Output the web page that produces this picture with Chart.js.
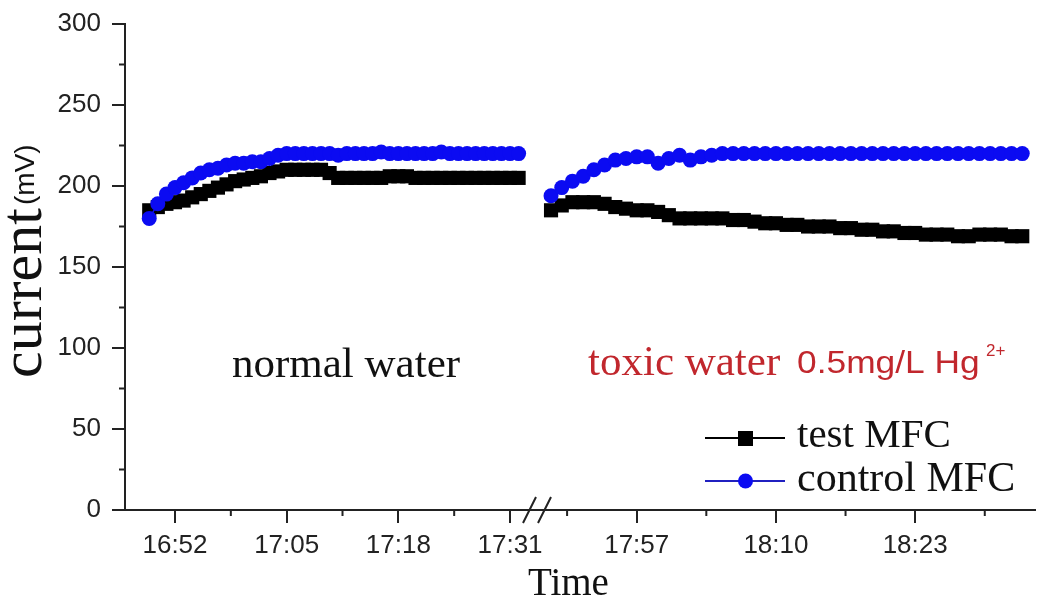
<!DOCTYPE html>
<html>
<head>
<meta charset="utf-8">
<script src="https://cdn.jsdelivr.net/npm/chart.js@4/dist/chart.umd.min.js"></script>
<style>
  html, body { margin: 0; padding: 0; background: #fff; }
  #wrap { width: 1038px; height: 611px; position: relative; }
</style>
</head>
<body>
<div id="wrap"><canvas id="myChart"></canvas></div>
<script>
// one reading per minute; first reading of each part
const leftStart = '16:49';
const rightStart = '17:49';

// test MFC, normal water / toxic water
const testLeft = [185, 187, 189, 190, 191, 193, 195, 197, 199, 201, 203, 204, 205, 206, 208, 209, 210, 210, 210, 210, 210, 208, 205,
  205, 205, 205, 205, 205, 206, 206, 206, 205, 205, 205, 205, 205, 205, 205, 205, 205, 205, 205, 205, 205];
const testRight = [185, 188, 190, 190, 190, 189, 187, 186, 185, 185, 184, 182, 180, 180, 180, 180, 180, 179, 179, 178,
  177, 177, 176, 176, 175, 175, 175, 174, 174, 173, 173, 172, 172, 171, 171, 170, 170, 170, 169, 169, 170, 170, 170, 169, 169];

// control MFC
const ctrlLeft = [180, 189, 195, 199, 202, 205, 208, 210, 211, 213, 214, 214, 215, 215, 217, 219, 220, 220, 220, 220, 220, 220, 219,
  220, 220, 220, 220, 221, 220, 220, 220, 220, 220, 220, 221, 220, 220, 220, 220, 220, 220, 220, 220, 220];
const ctrlRight = [194, 199, 203, 206, 210, 213, 216, 217, 218, 218, 214, 217, 219, 216, 218, 219, 220, 220, 220, 220,
  220, 220, 220, 220, 220, 220, 220, 220, 220, 220, 220, 220, 220, 220, 220, 220, 220, 220, 220, 220, 220, 220, 220, 220, 220];

const leftTickLabels = ['16:52', '17:05', '17:18', '17:31'];
const rightTickLabels = ['17:57', '18:10', '18:23'];

function toMin(s) {
  const p = s.split(':');
  return (parseInt(p[0]) - 16) * 60 + parseInt(p[1]);
}
function points(start, values) {
  const t0 = toMin(start);
  return values.map((v, i) => ({ x: t0 + i, y: v }));
}

const leftTicks = leftTickLabels.map(toMin);
const rightTicks = rightTickLabels.map(toMin);

const SANS = '"Liberation Sans", Arial, sans-serif';
const SERIF = '"Liberation Serif", "Times New Roman", serif';
const AXIS = '#222';
const BLUE = '#0b0bf2';
const RED = '#c1272d';

function xScale(ticks, labels, min, max, weight) {
  return {
    type: 'linear',
    position: 'bottom',
    stack: 'x',
    stackWeight: weight,
    min: min,
    max: max,
    afterBuildTicks: function (scale) {
      scale.ticks = ticks.map(v => ({ value: v }));
    },
    afterFit: function (scale) {
      scale.height = 101;
      scale.paddingLeft = 0;
      scale.paddingRight = 0;
    },
    grid: { drawOnChartArea: false, tickLength: 13, color: AXIS, lineWidth: 2 },
    border: { color: AXIS, width: 2 },
    ticks: {
      font: { family: SANS, size: 26 },
      color: AXIS,
      padding: 7,
      maxRotation: 0,
      autoSkip: false,
      callback: function (value, index) { return labels[index]; }
    }
  };
}

const decorPlugin = {
  id: 'decor',
  afterDraw: function (chart) {
    const ctx = chart.ctx;
    const y = chart.scales.y;
    const xl = chart.scales.xl;
    const xr = chart.scales.xr;
    ctx.save();
    ctx.strokeStyle = AXIS;
    ctx.lineWidth = 2;

    // minor ticks
    ctx.beginPath();
    for (let v = 25; v < 300; v += 50) {
      const py = y.getPixelForValue(v);
      ctx.moveTo(y.right, py);
      ctx.lineTo(y.right - 6, py);
    }
    [[xl, leftTicks], [xr, rightTicks]].forEach(function (pair) {
      const sc = pair[0];
      const minors = [];
      pair[1].forEach(function (t) { minors.push(t - 6.5, t + 6.5); });
      minors.forEach(function (m) {
        if (m > sc.min && m < sc.max && pair[1].indexOf(m) < 0) {
          const px = sc.getPixelForValue(m);
          ctx.moveTo(px, sc.top);
          ctx.lineTo(px, sc.top + 6);
        }
      });
    });
    ctx.stroke();

    // axis break
    const bx = xl.right;
    const by = xl.top;
    ctx.beginPath();
    ctx.moveTo(bx - 14, by + 13); ctx.lineTo(bx - 1, by - 13);
    ctx.moveTo(bx + 1, by + 13); ctx.lineTo(bx + 14, by - 13);
    ctx.stroke();

    ctx.textAlign = 'left';
    ctx.textBaseline = 'alphabetic';

    // y title
    ctx.fillStyle = '#111';
    ctx.save();
    ctx.translate(41, 378);
    ctx.rotate(-Math.PI / 2);
    ctx.font = '60px ' + SERIF;
    ctx.fillText('current', 0, 0);
    ctx.restore();
    ctx.save();
    ctx.translate(34, 205);
    ctx.rotate(-Math.PI / 2);
    ctx.font = '28px ' + SANS;
    ctx.fillText('(mV)', 0, 0);
    ctx.restore();

    // x title
    ctx.font = '39px ' + SERIF;
    ctx.fillText('Time', 528, 595);

    // region notes
    ctx.font = '43px ' + SERIF;
    ctx.fillText('normal water', 232, 377);
    ctx.fillStyle = RED;
    ctx.fillText('toxic water', 588, 375);
    ctx.save();
    ctx.translate(797, 373);
    ctx.scale(1.14, 1);
    ctx.font = '31px ' + SANS;
    ctx.fillText('0.5mg/L Hg', 0, 0);
    ctx.restore();
    ctx.font = '17px ' + SANS;
    ctx.fillText('2+', 986, 356);

    // legend
    ctx.strokeStyle = '#000';
    ctx.beginPath();
    ctx.moveTo(705, 438); ctx.lineTo(785, 438);
    ctx.stroke();
    ctx.fillStyle = '#000';
    ctx.fillRect(738, 431, 15, 15);
    ctx.strokeStyle = '#2020c0';
    ctx.beginPath();
    ctx.moveTo(705, 481); ctx.lineTo(785, 481);
    ctx.stroke();
    ctx.fillStyle = BLUE;
    ctx.beginPath();
    ctx.arc(745.5, 481, 7.5, 0, Math.PI * 2);
    ctx.fill();
    ctx.fillStyle = '#111';
    ctx.font = '41px ' + SERIF;
    ctx.fillText('test MFC', 797, 447);
    ctx.font = '42px ' + SERIF;
    ctx.fillText('control MFC', 797, 491);
    ctx.restore();
  }
};

const ctrlStyle = {
  borderColor: BLUE, backgroundColor: BLUE, borderWidth: 1.5,
  pointStyle: 'circle', pointRadius: 7.5, pointBorderWidth: 0, clip: false
};
const testStyle = {
  borderColor: '#000', backgroundColor: '#000', borderWidth: 1.5,
  pointStyle: 'rect', pointRadius: 10, pointBorderWidth: 0, clip: false
};

const data = {
  datasets: [
    Object.assign({ label: 'control MFC', data: points(leftStart, ctrlLeft), xAxisID: 'xl' }, ctrlStyle),
    Object.assign({ label: 'control MFC', data: points(rightStart, ctrlRight), xAxisID: 'xr' }, ctrlStyle),
    Object.assign({ label: 'test MFC', data: points(leftStart, testLeft), xAxisID: 'xl' }, testStyle),
    Object.assign({ label: 'test MFC', data: points(rightStart, testRight), xAxisID: 'xr' }, testStyle)
  ]
};

const options = {
  responsive: true,
  maintainAspectRatio: false,
  animation: false,
  layout: { autoPadding: false, padding: { top: 24, right: 3, left: 0, bottom: 0 } },
  plugins: { legend: { display: false }, tooltip: { enabled: false } },
  scales: {
    xl: xScale(leftTicks, leftTickLabels, 46.18, 94.14, 412),
    xr: xScale(rightTicks, rightTickLabels, 107.69, 154.19, 498),
    y: {
      type: 'linear',
      position: 'left',
      min: 0,
      max: 300,
      afterFit: function (scale) {
        scale.width = 125;
        scale.paddingTop = 0;
        scale.paddingBottom = 0;
      },
      grid: { drawOnChartArea: false, tickLength: 13, color: AXIS, lineWidth: 2 },
      border: { color: AXIS, width: 2 },
      ticks: {
        stepSize: 50,
        font: { family: SANS, size: 26 },
        color: AXIS,
        padding: 11
      }
    }
  }
};

const ctx = document.getElementById('myChart').getContext('2d');
const myChart = new Chart(ctx, { type: 'line', data: data, options: options, plugins: [decorPlugin] });
</script>
</body>
</html>
